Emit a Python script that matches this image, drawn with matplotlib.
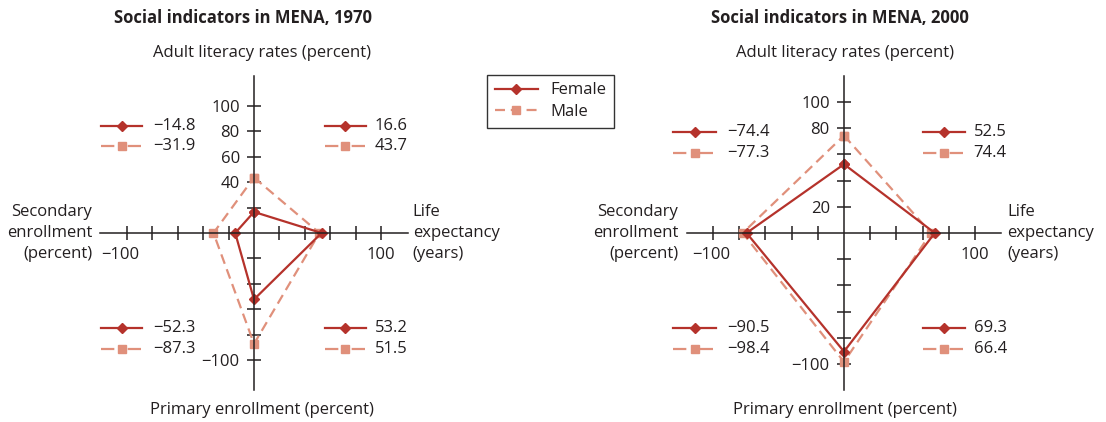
import matplotlib
matplotlib.use("Agg")
import matplotlib.pyplot as plt
from matplotlib.lines import Line2D

plt.rcParams['font.family'] = ['Open Sans', 'DejaVu Sans']

# ---------------- data ----------------
years = ['1970', '2000']
axis_labels = ['Adult literacy rates (percent)', 'Life\nexpectancy\n(years)',
               'Primary enrollment (percent)', 'Secondary\nenrollment\n(percent)']
# order: literacy (top), life expectancy (right), primary (bottom), secondary (left)
female_1970 = [16.6, 53.2, -52.3, -14.8]
male_1970 = [43.7, 51.5, -87.3, -31.9]
female_2000 = [52.5, 69.3, -90.5, -74.4]
male_2000 = [74.4, 66.4, -98.4, -77.3]
tick_values = [-100, -80, -60, -40, -20, 20, 40, 60, 80, 100]
ylabels_1970 = [-100, 40, 60, 80, 100]
ylabels_2000 = [-100, 20, 80, 100]

FEM = '#B5322B'
MAL = '#E0907B'
TXT = '#231F20'
FS = 12
LW = 1.6
POLY_DASH = (0, (4.5, 2.6))
KEY_DASH = (0, (6.0, 6.0))

W, H = 1106, 422
fig = plt.figure(figsize=(W / 100, H / 100), dpi=100)


def fmt(v):
    return f"{v:.1f}".replace('-', '\u2212')


def make_panel(px0, px1, cx, cy, s, ext, fem, mal, ylabs, title, lay):
    ax = fig.add_axes([px0 / W, 0, (px1 - px0) / W, 1])
    ax.set_xlim(-(cx - px0) / s, (px1 - cx) / s)
    ax.set_ylim(-(H - cy) / s, cy / s)
    for sp in ['top', 'right']:
        ax.spines[sp].set_visible(False)
    ax.spines['left'].set_position(('data', 0))
    ax.spines['bottom'].set_position(('data', 0))
    ax.spines['left'].set_bounds(-ext[1], ext[1])
    ax.spines['bottom'].set_bounds(-ext[0], ext[0])
    for sp in ['left', 'bottom']:
        ax.spines[sp].set_linewidth(1.1)
        ax.spines[sp].set_color(TXT)
    ax.set_xticks(tick_values)
    ax.set_yticks(tick_values)
    ax.set_xticklabels([''] * len(tick_values))
    ax.set_yticklabels([fmt(v)[:-2] if v in ylabs else '' for v in tick_values])
    ax.tick_params(direction='inout', length=10.5, width=1.1, color=TXT,
                   labelsize=FS, labelcolor=TXT, pad=5)
    ax.patch.set_visible(False)

    # x tick labels
    ax.text(lay['xm100'], lay['xly'], '\u2212100', ha='right', va='center', fontsize=FS, color=TXT)
    ax.text(100, lay['xly'], '100', ha='center', va='center', fontsize=FS, color=TXT)

    def poly(v):
        xs = [0, v[1], 0, v[3], 0]
        ys = [v[0], 0, v[2], 0, v[0]]
        return xs, ys

    xs, ys = poly(mal)
    ax.plot(xs, ys, color=MAL, lw=LW, ls=POLY_DASH, marker='s', ms=5.2, mec=MAL, mfc=MAL)
    xs, ys = poly(fem)
    ax.plot(xs, ys, color=FEM, lw=LW, marker='D', ms=5, mec=FEM, mfc=FEM)

    # quadrant keys
    quads = [
        (lay['qlx'], lay['qty'], fem[3], mal[3]),
        (lay['qrx'], lay['qty'], fem[0], mal[0]),
        (lay['qlx'], lay['qby'], fem[2], mal[2]),
        (lay['qrx'], lay['qby'], fem[1], mal[1]),
    ]
    for (x0, x1, xt), (y0, y1), fv, mv in quads:
        xm = (x0 + x1) / 2
        ax.plot([x0, xm, x1], [y0, y0, y0], color=FEM, lw=LW, marker='D', ms=5, markevery=[1])
        ax.plot([x0, xm, x1], [y1, y1, y1], color=MAL, lw=LW, ls=KEY_DASH, marker='s', ms=5.2,
                markevery=[1])
        ax.text(xt, y0, fmt(fv), ha='left', va='center', fontsize=FS, color=TXT)
        ax.text(xt, y1, fmt(mv), ha='left', va='center', fontsize=FS, color=TXT)

    # axis names
    ax.text(lay['topx'], lay['topy'], axis_labels[0], ha='center', va='center', fontsize=FS, color=TXT)
    ax.text(lay['topx'], lay['boty'], axis_labels[2], ha='center', va='center', fontsize=FS, color=TXT)
    ax.text(lay['leftx'], 0, axis_labels[3], ha='right', va='center', ma='right', fontsize=FS,
            color=TXT, linespacing=1.4)
    ax.text(lay['rightx'], 0, axis_labels[1], ha='left', va='center', ma='left', fontsize=FS,
            color=TXT, linespacing=1.4)
    ax.text(lay['tx'], lay['ty'], title, ha='center', va='center', fontsize=12, fontweight='bold',
            color=TXT)
    return ax


lay1 = dict(xm100=-90, xly=-17, qlx=(-120.5, -88, -79.5), qrx=(56, 88, 95), qty=(84, 68.5),
            qby=(-74.8, -91.3), topx=6.3, topy=141.7, boty=-139.4, leftx=-127.5, rightx=125,
            tx=-8.7, ty=169)
lay2 = dict(xm100=-87, xly=-16.8, qlx=(-130.5, -97.7, -89.3), qrx=(60, 92, 99), qty=(77, 61),
            qby=(-72.5, -88.5), topx=0.8, topy=137.4, boty=-135, leftx=-126.7, rightx=124.4,
            tx=-3, ty=164)

ax1 = make_panel(0, 540, 254, 233, 1.27, (121, 124), female_1970, male_1970, ylabels_1970,
                 'Social indicators in MENA, ' + years[0], lay1)
ax2 = make_panel(553, 1106, 844, 233, 1.31, (120, 120), female_2000, male_2000, ylabels_2000,
                 'Social indicators in MENA, ' + years[1], lay2)

handles = [Line2D([], [], color=FEM, lw=LW, marker='D', ms=5, markevery=[1]),
           Line2D([], [], color=MAL, lw=LW, ls=POLY_DASH, marker='s', ms=5.2)]
leg = fig.legend(handles, ['Female', 'Male'], loc='upper left',
                 bbox_to_anchor=(487 / W, 1 - 75 / H), frameon=True, fancybox=False,
                 fontsize=FS, handlelength=2.6, borderpad=0.45, labelspacing=0.35,
                 handletextpad=0.75, borderaxespad=0)
leg.get_frame().set_edgecolor('black')
leg.get_frame().set_linewidth(1.0)
for t in leg.get_texts():
    t.set_color(TXT)

fig.savefig('out.png', dpi=100)
